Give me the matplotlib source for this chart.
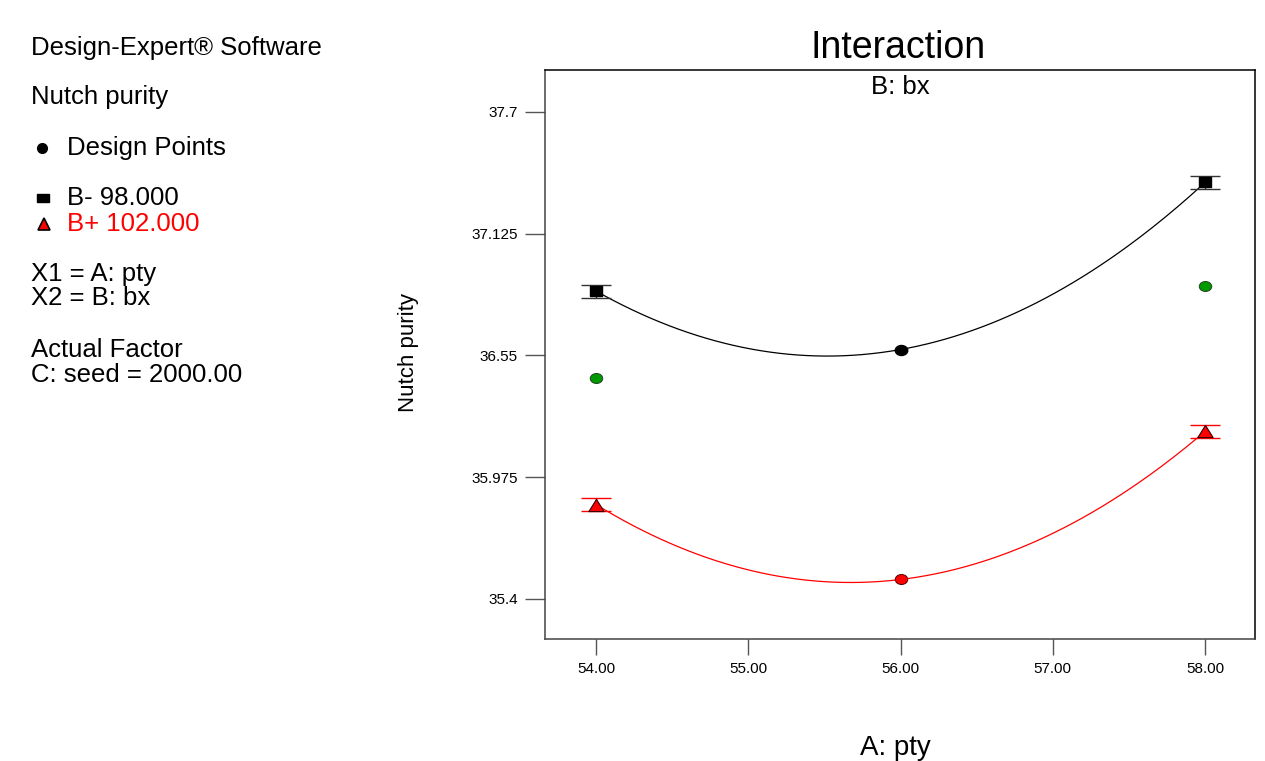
import numpy as np
import matplotlib
matplotlib.use("Agg")
import matplotlib.pyplot as plt
from matplotlib.path import Path
from matplotlib.lines import Line2D

plt.rcParams['font.family'] = ['Liberation Sans', 'DejaVu Sans']

# ====== Data ======
pty_levels = [54.0, 56.0, 58.0]
bx_minus_mean = [36.854, 36.578, 37.367]   # B- 98.000
bx_plus_mean = [35.846, 35.492, 36.191]    # B+ 102.000
lsd_half = [0.031, 0.031]                  # LSD bars at the end levels

design_x_black = [56.0]
design_y_black = [36.578]
design_x_red = [56.0]
design_y_red = [35.492]
design_x_green = [54.0, 58.0]
design_y_green = [36.444, 36.880]

x_ticks = [54.0, 55.0, 56.0, 57.0, 58.0]
x_tick_labels = ["54.00", "55.00", "56.00", "57.00", "58.00"]
y_ticks = [35.4, 35.975, 36.55, 37.125, 37.7]
y_tick_labels = ["35.4", "35.975", "36.55", "37.125", "37.7"]

# ====== Slightly wide marker shapes ======
ellipse = Path(Path.unit_circle().vertices * [1.25, 1.0], Path.unit_circle().codes)
wide_square = Path([(-1.3, -1), (1.3, -1), (1.3, 1), (-1.3, 1), (-1.3, -1)],
                   [Path.MOVETO, Path.LINETO, Path.LINETO, Path.LINETO, Path.CLOSEPOLY])
wide_tri = Path([(-7.5, -6), (7.5, -6), (0, 6), (-7.5, -6)],
                [Path.MOVETO, Path.LINETO, Path.LINETO, Path.CLOSEPOLY])

fig = plt.figure(figsize=(12.65, 7.61), dpi=100)
ax = fig.add_axes([545 / 1265, 1 - 639 / 761, 710 / 1265, 569 / 761])

# quadratic model lines through the cell means
xs = np.linspace(54, 58, 200)
for means, col in [(bx_minus_mean, "black"), (bx_plus_mean, "red")]:
    coef = np.polyfit(pty_levels, means, 2)
    ax.plot(xs, np.polyval(coef, xs), color=col, lw=0.9, zorder=2)

ends_x = [pty_levels[0], pty_levels[2]]
bm = [bx_minus_mean[0], bx_minus_mean[2]]
bp = [bx_plus_mean[0], bx_plus_mean[2]]
ax.errorbar(ends_x, bm, yerr=lsd_half, fmt="none", ecolor="#333333",
            elinewidth=1, capsize=11, capthick=1, zorder=3)
ax.errorbar(ends_x, bp, yerr=lsd_half, fmt="none", ecolor="red",
            elinewidth=1, capsize=11, capthick=1, zorder=3)
ax.plot(ends_x, bm, linestyle="none", marker=wide_square, markersize=8.5,
        color="black", zorder=4)
ax.plot(ends_x, bp, linestyle="none", marker=wide_tri, markersize=11,
        markerfacecolor="red", markeredgecolor="#330000", markeredgewidth=0.8, zorder=4)

# design points
ax.plot(design_x_black, design_y_black, linestyle="none", marker=ellipse, markersize=9,
        markerfacecolor="black", markeredgecolor="black", zorder=5)
ax.plot(design_x_red, design_y_red, linestyle="none", marker=ellipse, markersize=9,
        markerfacecolor="red", markeredgecolor="#550000", markeredgewidth=0.7, zorder=5)
ax.plot(design_x_green, design_y_green, linestyle="none", marker=ellipse, markersize=9,
        markerfacecolor="#009900", markeredgecolor="#224422", markeredgewidth=0.7, zorder=5)

ax.set_xlim(53.665, 58.328)
ax.set_ylim(35.211, 37.898)
ax.set_xticks(x_ticks)
ax.set_xticklabels(x_tick_labels, fontsize=11)
ax.set_yticks(y_ticks)
ax.set_yticklabels(y_tick_labels, fontsize=11)
ax.tick_params(axis="x", direction="out", length=11.5, width=1, color="#555555", pad=5)
ax.tick_params(axis="y", direction="out", length=14.4, width=1, color="#555555", pad=5)
for side in ["left", "bottom"]:
    ax.spines[side].set_color("#444444")
for side in ["top", "right"]:
    ax.spines[side].set_color("black")
for sp in ax.spines.values():
    sp.set_linewidth(1.1)

ax.text(0.5, 1 - (94 - 70) / 569, "B: bx", transform=ax.transAxes, ha="center",
        va="baseline", fontsize=18.5)

# titles and axis labels
fig.text(898 / 1265, 1 - 58 / 761, "Interaction", ha="center", va="baseline", fontsize=27)
fig.text(895 / 1265, 1 - 755 / 761, "A: pty", ha="center", va="baseline", fontsize=20)
fig.text(408 / 1265, 1 - 353 / 761, "Nutch purity", ha="center", va="center",
         rotation=90, fontsize=16)

# ====== Left info panel ======
def info(y, s, x=31, color="black"):
    fig.text(x / 1265, 1 - y / 761, s, ha="left", va="baseline", fontsize=18.5, color=color)

info(55, "Design-Expert® Software")
info(104, "Nutch purity")
info(155, "Design Points", x=67)
info(205, "B- 98.000", x=67)
info(231, "B+ 102.000", x=67, color="red")
info(281, "X1 = A: pty")
info(305, "X2 = B: bx")
info(357, "Actual Factor")
info(382, "C: seed = 2000.00")

fig.add_artist(Line2D([42 / 1265], [1 - 148 / 761], transform=fig.transFigure,
                      marker="o", markersize=7, color="black", linestyle="none"))
fig.add_artist(Line2D([43 / 1265], [1 - 198 / 761], transform=fig.transFigure,
                      marker=wide_square, markersize=8, color="black", linestyle="none"))
fig.add_artist(Line2D([44 / 1265], [1 - 224 / 761], transform=fig.transFigure,
                      marker="^", markersize=9, markerfacecolor="red",
                      markeredgecolor="black", markeredgewidth=1.2, linestyle="none"))

fig.savefig("out.png", dpi=100)
